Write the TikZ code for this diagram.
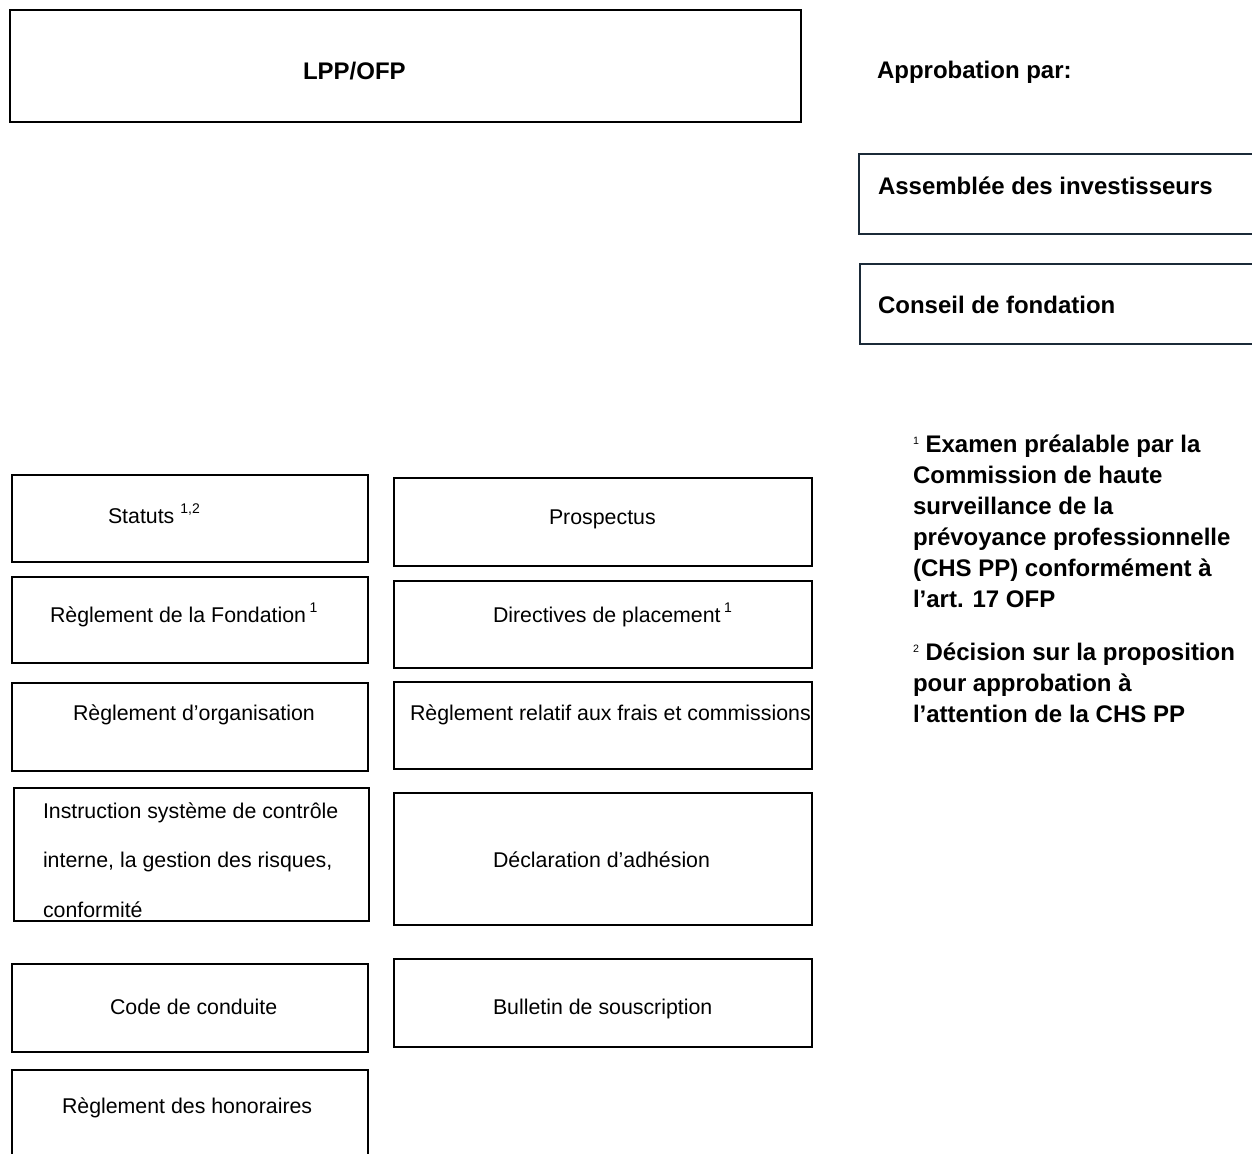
\documentclass[tikz,border=0pt]{standalone}
\usepackage{fontspec}
\setmainfont{Liberation Sans}
\definecolor{navyc}{HTML}{1B2A38}
\newdimen\px \px=0.75pt
\newcommand\supr[1]{\raisebox{7pt}{\fontsize{10.5}{10.5}\selectfont #1}}
\newcommand\fnmark[1]{\raisebox{6pt}{\fontsize{8}{8}\selectfont\mdseries #1}}
\tikzset{
  box/.style={draw=black, line width=1.9pt, inner sep=0pt, outer sep=0pt, anchor=north west},
  nbox/.style={box, draw=navyc},
  lbl/.style={inner sep=0pt, outer sep=0pt, anchor=base west, font=\fontsize{16}{19}\selectfont},
  blbl/.style={inner sep=0pt, outer sep=0pt, anchor=base west, font=\fontsize{18}{22}\selectfont\bfseries},
}
\newcommand\bx[6][box]{\node[#1, minimum width={(#4-#2)*\px}, minimum height={(#5-#3)*\px}] (#6) at (#2,#3) {};}
\begin{document}
\begin{tikzpicture}[x=0.75pt,y=-0.75pt]
\useasboundingbox[fill=white] (0,0) rectangle (1252,1153);
% top
\bx{10}{10}{801}{122}{lpp}
\node[blbl] (lppt) at (303,79) {LPP/OFP};
\node[blbl] (appr) at (877,78) {Approbation par:};
\bx[nbox]{859}{154}{1275}{234}{assb}
\node[blbl] (assbt) at (878,194) {Assemblée des investisseurs};
\bx[nbox]{860}{264}{1275}{344}{cons}
\node[blbl] (const) at (878,313) {Conseil de fondation};
% left column
\bx{12}{475}{368}{562}{stat}
\node[lbl] (statt) at (108,523) {Statuts \supr{1,2}};
\bx{12}{577}{368}{663}{fond}
\node[lbl] (fondt) at (50,622) {Règlement de la Fondation\,\supr{1}};
\bx{12}{683}{368}{771}{orga}
\node[lbl] (orgat) at (73,720) {Règlement d’organisation};
\bx{14}{788}{369}{921}{instr}
\node[lbl, anchor=base west] (instrt) at (43,818) {\parbox[t]{330\px}{\fontsize{16}{37.3}\selectfont Instruction système de contrôle\\interne, la gestion des risques,\\conformité}};
\bx{12}{964}{368}{1052}{code}
\node[lbl] (codet) at (110,1014) {Code de conduite};
\bx{12}{1070}{368}{1170}{hono}
\node[lbl] (honot) at (62,1113) {Règlement des honoraires};
% right column
\bx{394}{478}{812}{566}{prosp}
\node[lbl] (prospt) at (549,524) {Prospectus};
\bx{394}{581}{812}{668}{dirp}
\node[lbl] (dirpt) at (493,622) {Directives de placement\,\supr{1}};
\bx{394}{682}{812}{769}{frais}
\node[lbl] (fraist) at (410,720) {Règlement relatif aux frais et commissions};
\bx{394}{793}{812}{925}{decl}
\node[lbl] (declt) at (493,867) {Déclaration d’adhésion};
\bx{394}{959}{812}{1047}{bull}
\node[lbl] (bullt) at (493,1014) {Bulletin de souscription};
% footnotes
\node[blbl] (fn1) at (913,452) {\parbox[t]{340\px}{\fontsize{18}{23.25}\selectfont\bfseries \fnmark{1} Examen préalable par la\\Commission de haute\\surveillance de la\\prévoyance professionnelle\\(CHS PP) conformément à\\l’art. 17 OFP}};
\node[blbl] (fn2) at (913,660) {\parbox[t]{340\px}{\fontsize{18}{23.25}\selectfont\bfseries \fnmark{2} Décision sur la proposition\\pour approbation à\\l’attention de la CHS PP}};
\end{tikzpicture}
\end{document}
